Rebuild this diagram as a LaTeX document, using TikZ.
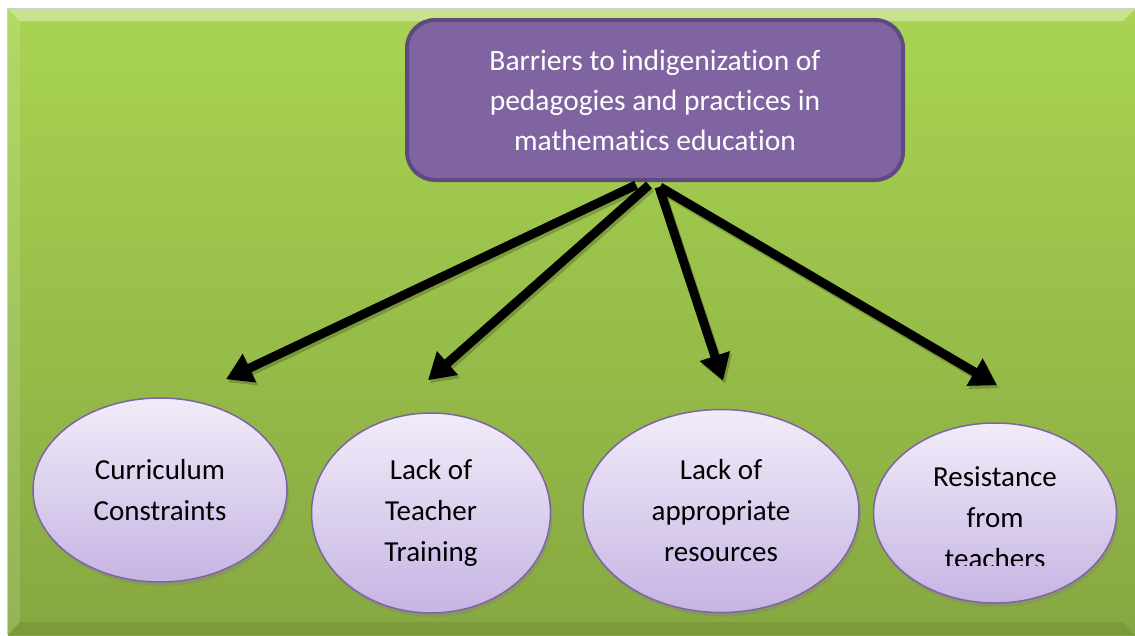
\documentclass[tikz,border=0pt]{standalone}
\usepackage{fontspec}
\setmainfont{Carlito}[Ligatures=NoCommon]
\usetikzlibrary{shapes.geometric,arrows.meta,shadows}

\definecolor{barpurple}{HTML}{8064A2}
\definecolor{barpurpledark}{HTML}{5E4A7F}
\definecolor{bglight}{HTML}{A9D452}
\definecolor{bgdark}{HTML}{86A841}
\definecolor{ovaltop}{HTML}{F1ECF9}
\definecolor{ovalbottom}{HTML}{C6B4E3}

\begin{document}
\begin{tikzpicture}[x=1pt,y=-1pt,
	oval/.style={ellipse, draw=barpurple, line width=1.5pt, top color=ovaltop, bottom color=ovalbottom,
		inner sep=0pt, align=center, font=\fontsize{29}{41}\selectfont,
		drop shadow={shadow xshift=2pt, shadow yshift=-4pt, opacity=0.35}},
	bararrow/.style={line width=9pt, -{Triangle[length=26pt,width=30pt]}},
	arrowshadow/.style={bararrow, black, opacity=0.2, transform canvas={shift={(2pt,-3pt)}}}]
	\useasboundingbox (0,0) rectangle (1135,635);

	% green panel with bevelled edges
	\shade[top color=bglight, bottom color=bgdark] (8,9) rectangle (1135,635);
	\fill[white, opacity=0.35] (8,9) -- (1135,9) -- (1123,21) -- (20,21) -- cycle;
	\fill[white, opacity=0.12] (8,9) -- (20,21) -- (20,622) -- (8,635) -- cycle;
	\fill[black, opacity=0.08] (8,635) -- (20,622) -- (1123,622) -- (1135,635) -- cycle;
	\draw[black!20, line width=1pt] (7.5,635) -- (7.5,8.5) -- (1135,8.5);

	% heading box
	\node[draw=barpurpledark, line width=4pt, fill=barpurple, rounded corners=28pt,
		minimum width=496pt, minimum height=160pt, text=white, align=center,
		font=\fontsize{29.5}{40}\selectfont] (barriers) at (655,100)
		{Barriers to indigenization of\\pedagogies and practices in\\mathematics education};

	% the four barriers
	\node[oval, minimum width=254pt, minimum height=184pt] (curriculum) at (160,490) {Curriculum\\Constraints};
	\node[oval, minimum width=239pt, minimum height=200pt] (training) at (431,513) {Lack of\\Teacher\\Training};
	\node[oval, minimum width=276pt, minimum height=203pt] (resources) at (721,511) {Lack of\\appropriate\\resources};
	\node[oval, minimum width=243pt, minimum height=180pt] (resistance) at (995,513) {};
	\begin{scope}
		\clip (870,420) rectangle (1120,565);
		\node[align=center, font=\fontsize{29}{41}\selectfont] (resistancetext) at (995,518) {Resistance\\from\\teachers};
	\end{scope}

	% arrows
	\draw[arrowshadow] ([xshift=-19pt,yshift=-3pt]barriers.south) -- ([xshift=66pt,yshift=18pt]curriculum.north);
	\draw[arrowshadow] ([xshift=-6pt,yshift=-3pt]barriers.south) -- ([xshift=-3pt,yshift=32pt]training.north);
	\draw[arrowshadow] ([xshift=4pt,yshift=-5pt]barriers.south) -- ([xshift=2pt,yshift=28pt]resources.north);
	\draw[arrowshadow] ([xshift=5pt,yshift=-5pt]barriers.south) -- ([xshift=2pt,yshift=37pt]resistance.north);
	\draw[bararrow] ([xshift=-19pt,yshift=-3pt]barriers.south) -- ([xshift=66pt,yshift=18pt]curriculum.north);
	\draw[bararrow] ([xshift=-6pt,yshift=-3pt]barriers.south) -- ([xshift=-3pt,yshift=32pt]training.north);
	\draw[bararrow] ([xshift=4pt,yshift=-5pt]barriers.south) -- ([xshift=2pt,yshift=28pt]resources.north);
	\draw[bararrow] ([xshift=5pt,yshift=-5pt]barriers.south) -- ([xshift=2pt,yshift=37pt]resistance.north);
\end{tikzpicture}
\end{document}
